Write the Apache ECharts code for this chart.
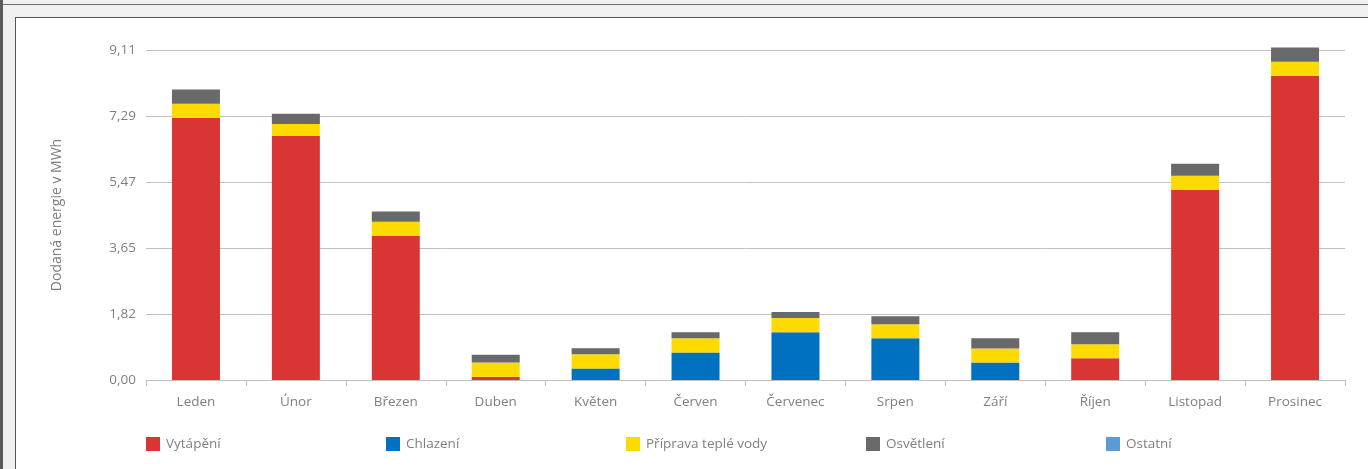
<!DOCTYPE html>
<html>
<head>
<meta charset="utf-8">
<script src="https://cdn.jsdelivr.net/npm/echarts@6/dist/echarts.min.js"></script>
<style>
  html, body { margin: 0; padding: 0; width: 1368px; height: 469px; overflow: hidden; background: #ffffff; }
  .f { position: absolute; }
  #chart { position: absolute; left: 0; top: 0; width: 1368px; height: 469px; }
</style>
</head>
<body>
<div class="f" style="left:0;top:0;width:1368px;height:18px;background:#f0f0f0;"></div>
<div class="f" style="left:0;top:0;width:16px;height:469px;background:#f0f0f0;"></div>
<div class="f" style="left:0;top:4px;width:1368px;height:1px;background:#707070;"></div>
<div class="f" style="left:0;top:0;width:3px;height:469px;background:#5a5a5a;"></div>
<div class="f" style="left:15px;top:17px;width:1353px;height:1px;background:#555555;"></div>
<div class="f" style="left:15px;top:17px;width:1px;height:452px;background:#555555;"></div>
<div id="chart"></div>
<script>
const categories = ['Leden','Únor','Březen','Duben','Květen','Červen','Červenec','Srpen','Září','Říjen','Listopad','Prosinec'];
const vytapeni   = [7.24, 6.74, 3.98, 0.09, 0, 0, 0, 0, 0, 0.60, 5.25, 8.40];
const chlazeni   = [0, 0, 0, 0, 0.32, 0.76, 1.32, 1.15, 0.48, 0, 0, 0];
const pripravaTV = [0.39, 0.33, 0.39, 0.39, 0.39, 0.39, 0.39, 0.39, 0.39, 0.39, 0.39, 0.39];
const osvetleni  = [0.39, 0.28, 0.28, 0.22, 0.17, 0.17, 0.17, 0.22, 0.28, 0.33, 0.33, 0.39];
const ostatni    = [0, 0, 0, 0, 0, 0, 0, 0, 0, 0, 0, 0];
const yTickLabels = ['0,00','1,82','3,65','5,47','7,29','9,11'];
const yInterval = 1.8225;
const yMax = 9.1125;

const seriesNames = ['Vytápění','Chlazení','Příprava teplé vody','Osvětlení','Ostatní'];
const seriesData = [vytapeni, chlazeni, pripravaTV, osvetleni, ostatni];
const colors = ['#da3535','#0070c0','#fddb00','#69696b','#5b9bd5'];

const FONT = 'Open Sans';
const TXT = '#7f7f7f';

const chart = echarts.init(document.getElementById('chart'), null, {renderer: 'canvas'});
chart.setOption({
  animation: false,
  backgroundColor: 'transparent',
  textStyle: { fontFamily: FONT },
  legend: seriesNames.map((n, i) => ({
    data: [n],
    left: 146 + 240 * i,
    top: 437,
    padding: 0,
    itemWidth: 14,
    itemHeight: 14,
    itemGap: 0,
    icon: 'rect',
    textStyle: { color: TXT, fontSize: 13.5, fontFamily: FONT, padding: [0, 0, 0, 1] }
  })),
  grid: { left: 146, right: 23, top: 50, bottom: 89, containLabel: false },
  xAxis: {
    type: 'category',
    data: categories,
    axisLine: { lineStyle: { color: '#bfbfbf', width: 1 } },
    axisTick: { show: true, length: 6, alignWithLabel: false, lineStyle: { color: '#bfbfbf' } },
    axisLabel: { color: TXT, fontSize: 13.5, fontFamily: FONT, margin: 15 }
  },
  yAxis: {
    type: 'value',
    min: 0,
    max: yMax,
    interval: yInterval,
    name: 'Dodaná energie v MWh',
    nameLocation: 'middle',
    nameGap: 82,
    nameTextStyle: { color: TXT, fontSize: 14, fontFamily: FONT },
    axisLine: { show: false },
    axisTick: { show: false },
    axisLabel: {
      color: TXT, fontSize: 13.5, fontFamily: FONT, margin: 10,
      formatter: v => yTickLabels[Math.round(v / yInterval)]
    },
    splitLine: { lineStyle: { color: '#c0c0c0', width: 1 } }
  },
  series: seriesNames.map((n, i) => ({
    name: n,
    type: 'bar',
    stack: 'total',
    barWidth: 48,
    clip: false,
    itemStyle: { color: colors[i] },
    data: seriesData[i]
  }))
});
</script>
</body>
</html>
